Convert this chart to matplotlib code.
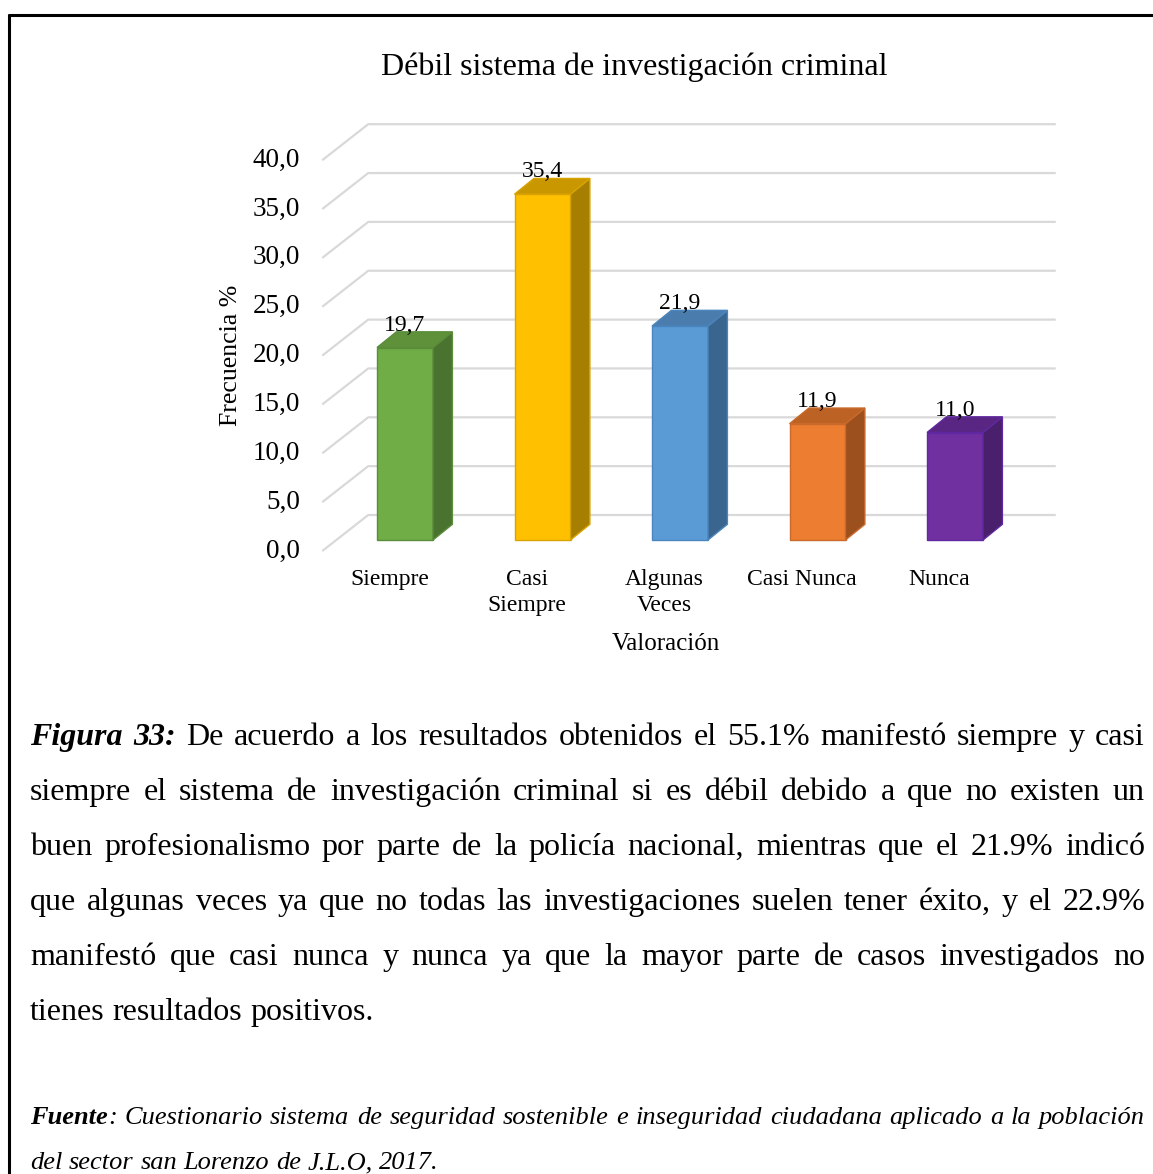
import matplotlib
matplotlib.use("Agg")
import matplotlib.pyplot as plt
from matplotlib.patches import Polygon
from matplotlib.lines import Line2D

plt.rcParams['font.family'] = ['Liberation Serif', 'DejaVu Serif']

# data
categories = ["Siempre", "Casi\nSiempre", "Algunas\nVeces", "Casi Nunca", "Nunca"]
values = [19.7, 35.4, 21.9, 11.9, 11.0]
y_ticks = [0, 5, 10, 15, 20, 25, 30, 35, 40]
front_colors = ["#70AD47", "#FFC000", "#5B9BD5", "#ED7D31", "#7030A0"]
top_colors = ["#5E913A", "#C99700", "#4A7DAE", "#BC6224", "#5A2684"]
side_colors = ["#4A7330", "#A67E00", "#3A658F", "#9C501D", "#4A1F6B"]
edge_colors = ["#5A8C3A", "#D9A300", "#4A85BD", "#C9692A", "#6028A0"]

title = "Débil sistema de investigación criminal"
x_title = "Valoración"
y_title = "Frecuencia %"

body_lines = [
    "**Figura** **33:** De acuerdo a los resultados obtenidos el 55.1% manifestó siempre y casi",
    "siempre el sistema de investigación criminal si es débil debido a que no existen un",
    "buen profesionalismo por parte de la policía nacional, mientras que el 21.9% indicó",
    "que algunas veces ya que no todas las investigaciones suelen tener éxito, y el 22.9%",
    "manifestó que casi nunca y nunca ya que la mayor parte de casos investigados no",
    "tienes resultados positivos.",
]
source_lines = [
    "**Fuente**: Cuestionario sistema de seguridad sostenible e inseguridad ciudadana aplicado a la población",
    "del sector san Lorenzo de J.L.O, 2017.",
]

W, H = 1153, 1174
fig = plt.figure(figsize=(W / 100, H / 100), dpi=100)
renderer = fig.canvas.get_renderer()


def fx(px):
    return px / W


def fy(py):
    return 1 - py / H


# border (top and left)
fig.add_artist(Line2D([fx(8), fx(1153)], [fy(15), fy(15)], color="black", lw=2.2,
                      solid_capstyle="butt", transform=fig.transFigure))
fig.add_artist(Line2D([fx(9), fx(9)], [fy(14), fy(1174)], color="black", lw=2.2,
                      solid_capstyle="butt", transform=fig.transFigure))

# chart axes: pixel box mapped to data units
px_cat, px_val = 137.5, 9.77      # pixels per category / per value unit
x0_px, y0_px = 405, 540           # centre of first bar front, value 0
left, right, top, bottom = 300, 1080, 100, 560
ax = fig.add_axes([fx(left), fy(bottom), (right - left) / W, (bottom - top) / H])
ax.set_xlim((left - x0_px) / px_cat, (right - x0_px) / px_cat)
ax.set_ylim((y0_px - bottom) / px_val, (y0_px - top) / px_val)
ax.axis("off")

# depth offsets (in data units)
back_dx, back_dy = 32 / px_cat, 25 / px_val
front_dx, front_dy = -14 / px_cat, -11 / px_val
bar_dx, bar_dy = 19.4 / px_cat, 15.7 / px_val
bar_w = 56 / px_cat
n = len(values)
wall_x = -0.5
end_x = n - 0.5

grid_c = "#D9D9D9"
for v in y_ticks:
    ax.plot([wall_x + front_dx, wall_x + back_dx, end_x + back_dx],
            [v + front_dy, v + back_dy, v + back_dy], color=grid_c, lw=1.6, zorder=1,
            solid_capstyle="butt")
    ax.text(wall_x + front_dx - 22 / px_cat, v + front_dy, f"{v:.1f}".replace(".", ","),
            ha="right", va="center", fontsize=19.5)

for i, v in enumerate(values):
    xl, xr = i - bar_w / 2, i + bar_w / 2
    ax.bar(i, v, width=bar_w, color=front_colors[i], edgecolor=edge_colors[i], lw=1.0, zorder=3)
    side = Polygon([(xr, 0), (xr + bar_dx, bar_dy), (xr + bar_dx, v + bar_dy), (xr, v)],
                   closed=True, facecolor=side_colors[i], edgecolor=edge_colors[i], lw=1.0, zorder=3)
    topf = Polygon([(xl, v), (xl + bar_dx, v + bar_dy), (xr + bar_dx, v + bar_dy), (xr, v)],
                   closed=True, facecolor=top_colors[i], edgecolor=edge_colors[i], lw=1.0, zorder=3)
    ax.add_patch(side)
    ax.add_patch(topf)
    ax.text(i, v + bar_dy + 0.1, f"{v:.1f}".replace(".", ","), ha="center", va="baseline",
            fontsize=17, zorder=4)
    ax.text(i + front_dx - 0.01, -29 / px_val, categories[i], ha="center", va="top",
            multialignment="center", fontsize=17, linespacing=1.3, clip_on=False)

fig.text(fx(634), fy(67), title, ha="center", va="center", fontsize=23)
fig.text(fx(666), fy(644), x_title, ha="center", va="center", fontsize=18)
fig.text(fx(231), fy(355), y_title, ha="center", va="center", rotation=90, fontsize=18.5)


def put_line(line, y, x_start, x_end, size, italic, justify):
    words = []
    for word in line.split(" "):
        segs = []
        for k, part in enumerate(word.split("**")):
            if not part:
                continue
            bold = k % 2 == 1
            t = fig.text(0, fy(y), part, fontsize=size, va="baseline", ha="left",
                         fontweight="bold" if bold else "normal",
                         fontstyle="italic" if (italic or bold) else "normal")
            segs.append((t, t.get_window_extent(renderer).width))
        words.append(segs)
    widths = [sum(w for _, w in segs) for segs in words]
    if justify and len(words) > 1:
        gap = (x_end - x_start - sum(widths)) / (len(words) - 1)
    else:
        gap = size * 0.25 * 100 / 72
    x = x_start
    for segs, w in zip(words, widths):
        for t, sw in segs:
            t.set_x(fx(x))
            x += sw
        x += gap


for k, line in enumerate(body_lines):
    put_line(line, 745 + 55 * k, 30, 1145, 23, False, k < len(body_lines) - 1)

for k, line in enumerate(source_lines):
    put_line(line, 1124 + 45 * k, 30, 1145, 19, True, k < len(source_lines) - 1)

fig.savefig("out.png", dpi=100)
